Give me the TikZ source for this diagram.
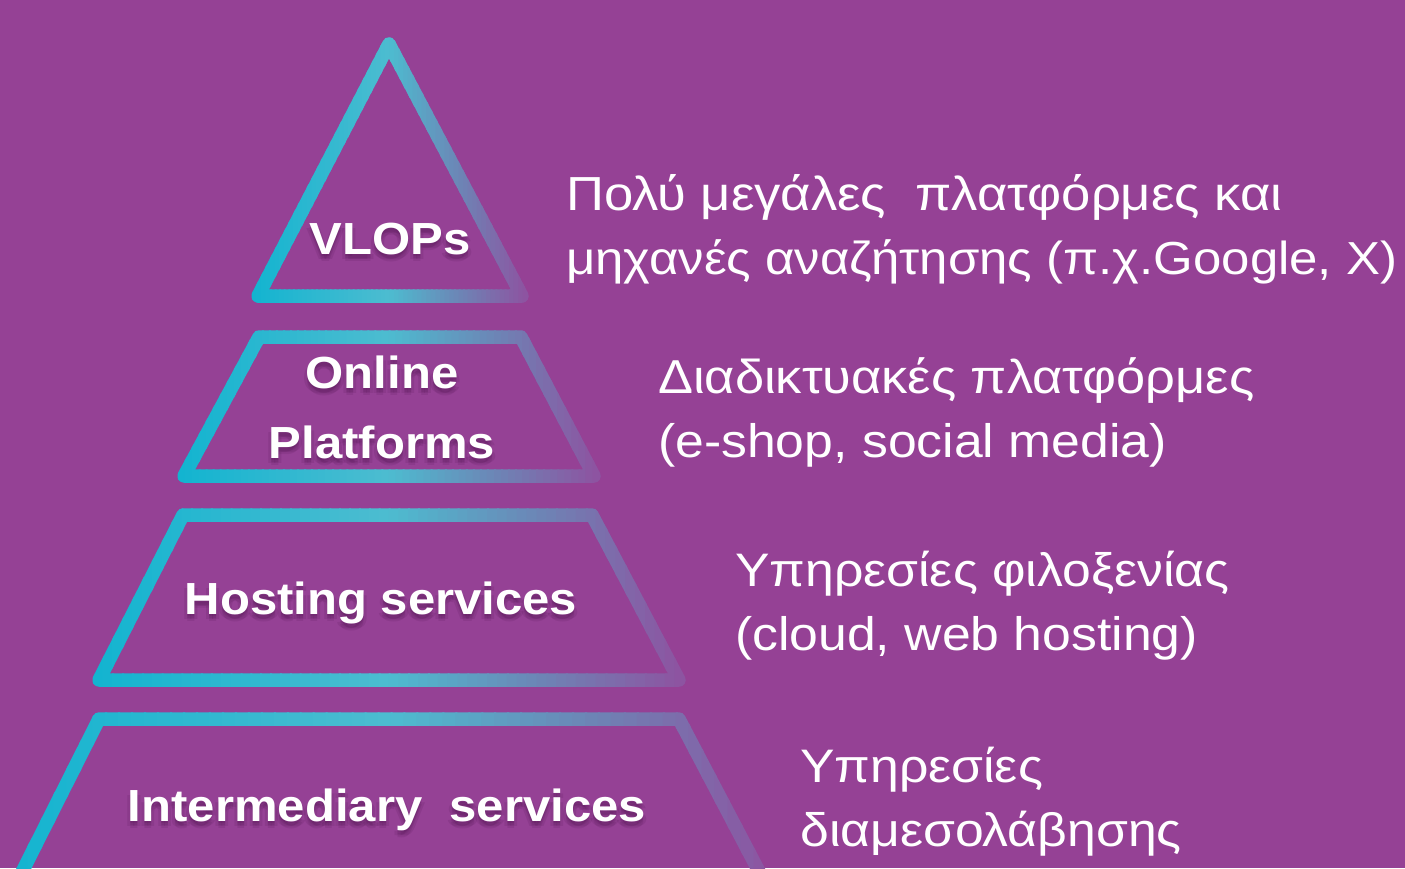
\documentclass[tikz,border=0pt]{standalone}
\usepackage{fontspec}
\setmainfont{Liberation Sans}
\newfontfamily\labelfont[FakeStretch=1.09]{Liberation Sans}
\newfontfamily\descfont[FakeStretch=1.1]{Liberation Sans}
\definecolor{bg}{HTML}{954195}
\definecolor{gA}{HTML}{12B4D0}
\definecolor{gB}{HTML}{4DBCD0}
\definecolor{gC}{HTML}{6C86B6}
\definecolor{gD}{HTML}{8E52A0}
\definecolor{shadowc}{HTML}{4A104A}

\newcommand\gradcol[1]{%
  \pgfmathsetmacro\gt{#1}%
  \ifdim\gt pt<0.5pt
    \pgfmathsetmacro\gp{100*(1-\gt/0.5)}%
    \colorlet{gc}{gA!\gp!gB}%
  \else\ifdim\gt pt<0.75pt
    \pgfmathsetmacro\gp{100*(1-(\gt-0.5)/0.25)}%
    \colorlet{gc}{gB!\gp!gC}%
  \else
    \pgfmathsetmacro\gp{100*(1-(\gt-0.75)/0.25)}%
    \colorlet{gc}{gC!\gp!gD}%
  \fi\fi}

\newcommand\gradshape[3]{%
  \foreach \gi in {0,...,59}{%
    \pgfmathsetmacro\gw{(#2-#1)/60}%
    \pgfmathsetmacro\gxa{#1+\gw*\gi-0.5}%
    \pgfmathsetmacro\gxb{#1+\gw*(\gi+1)+1.5}%
    \begin{scope}
      \gradcol{(\gi+0.5)/60}%
      \clip (\gxa,-10) rectangle (\gxb,900);
      \draw[outline, draw=gc] #3;
    \end{scope}
  }}

\newcommand\labeltext[4]{%
  \foreach \sdx/\sdy [count=\sk] in {0/4,-3/5,3/5,0/7,0/2}{%
    \node[shadownode] (#1-s\sk) at (#2+\sdx,#3+\sdy) {#4};
  }
  \node[labelnode] (#1) at (#2,#3) {#4};}

\tikzset{
  outline/.style={line width=13.5pt, line join=round, line cap=round},
  labelnode/.style={anchor=base, inner sep=0pt, text=white,
    font=\labelfont\bfseries\fontsize{45}{52}\selectfont},
  shadownode/.style={labelnode, text=shadowc, text opacity=0.13},
  descnode/.style={anchor=base west, inner sep=0pt, text=white,
    font=\descfont\fontsize{47}{56}\selectfont}
}

\begin{document}
\begin{tikzpicture}[x=1pt,y=-1pt]
\useasboundingbox (0,0) rectangle (1405,868);
\fill[bg] (0,0) rectangle (1405,868);
\clip (0,0) rectangle (1405,868);

% pyramid outlines
\gradshape{252}{528}{(389,44) -- (522,296) -- (258,296) -- cycle}
\gradshape{178}{600}{(259,337) -- (521,337) -- (594,476) -- (184,476) -- cycle}
\gradshape{93}{685}{(183,515) -- (592,515) -- (679,680) -- (99,680) -- cycle}
\gradshape{2}{780}{(99,719) -- (679,719) -- (774,900) -- (8,900) -- cycle}

% labels
\labeltext{vlops}{390}{254}{VLOPs}
\labeltext{online}{382}{388}{Online}
\labeltext{platforms}{382}{458}{Platforms}
\labeltext{hosting}{381}{614}{Hosting services}
\labeltext{inter}{387}{821}{Intermediary\ \ services}

% descriptions
\node[descnode, font=\descfont\fontsize{47.8}{56}\selectfont] (d1a) at (566,210) {Πολύ μεγάλες\ \ πλατφόρμες και};
\node[descnode, font=\descfont\fontsize{46.3}{56}\selectfont] (d1b) at (566,274) {μηχανές αναζήτησης (π.χ.Google, X)};
\node[descnode, font=\descfont\fontsize{47.6}{56}\selectfont] (d2a) at (658,393) {Διαδικτυακές πλατφόρμες};
\node[descnode] (d2b) at (658,457) {(e-shop, social media)};
\node[descnode] (d3a) at (735,586) {Υπηρεσίες φιλοξενίας};
\node[descnode] (d3b) at (735,650) {(cloud, web hosting)};
\node[descnode] (d4a) at (800,782) {Υπηρεσίες};
\node[descnode] (d4b) at (800,846) {διαμεσολάβησης};
\end{tikzpicture}
\end{document}
